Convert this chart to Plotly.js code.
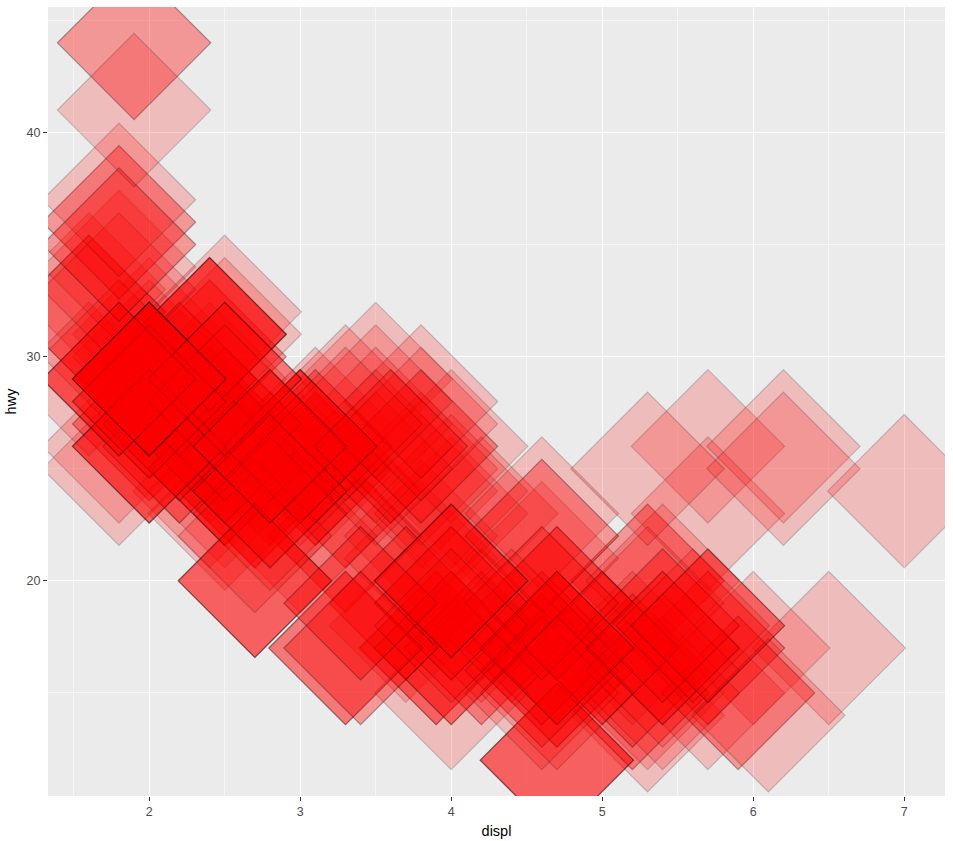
<!DOCTYPE html>
<html>
<head>
<meta charset="utf-8">
<script src="https://cdn.plot.ly/plotly-3.0.1.min.js"></script>
<style>html,body{margin:0;padding:0;background:#fff;}#chart{width:953px;height:841px;}</style>
</head>
<body>
<div id="chart"></div>
<script>
// mpg dataset: engine displacement (displ) and highway mileage (hwy)
var displ = [
  1.8,1.8,2.0,2.0,2.8,2.8,3.1,1.8,1.8,2.0,2.0,2.8,2.8,3.1,3.1,2.8,3.1,4.2,
  5.3,5.3,5.3,5.7,6.0,5.7,5.7,6.2,6.2,7.0,5.3,5.3,5.7,6.5,2.4,2.4,3.1,3.5,3.6,
  2.4,3.0,3.3,3.3,3.3,3.3,3.3,3.8,3.8,3.8,4.0,
  3.7,3.7,3.9,3.9,4.7,4.7,4.7,5.2,5.2,
  3.9,4.7,4.7,4.7,5.2,5.7,5.9,
  4.7,4.7,4.7,4.7,4.7,4.7,5.2,5.2,5.7,5.9,
  4.6,5.4,5.4,4.0,4.0,4.0,4.0,4.6,5.0,4.2,4.2,4.6,4.6,4.6,5.4,5.4,3.8,3.8,4.0,4.0,4.6,4.6,4.6,4.6,5.4,
  1.6,1.6,1.6,1.6,1.6,1.8,1.8,1.8,2.0,
  2.4,2.4,2.4,2.4,2.5,2.5,3.3,2.0,2.0,2.0,2.0,2.7,2.7,2.7,
  3.0,3.7,4.0,4.7,4.7,4.7,5.7,6.1,
  4.0,4.2,4.4,4.6,
  5.4,5.4,5.4,
  4.0,4.0,4.6,5.0,
  2.4,2.4,2.5,2.5,3.5,3.5,3.0,3.0,3.5,3.3,3.3,4.0,5.6,
  3.1,3.8,3.8,3.8,5.3,
  2.5,2.5,2.5,2.5,2.5,2.5,2.2,2.2,2.5,2.5,2.5,2.5,2.5,2.5,
  2.7,2.7,3.4,3.4,4.0,4.7,
  2.2,2.2,2.4,2.4,3.0,3.0,3.5,
  2.2,2.2,2.4,2.4,3.0,3.0,3.3,
  1.8,1.8,1.8,1.8,1.8,
  4.7,5.7,
  2.7,2.7,2.7,3.4,3.4,4.0,4.0,
  2.0,2.0,2.0,2.0,2.8,
  1.9,2.0,2.0,2.0,2.0,2.5,2.5,2.8,2.8,
  1.9,1.9,2.0,2.0,2.5,2.5,
  1.8,1.8,2.0,2.0,2.8,2.8,3.6
];
var hwy = [
  29,29,31,30,26,26,27,26,25,28,27,25,25,25,25,24,25,23,
  20,15,20,17,17,26,23,26,25,24,19,14,15,17,27,30,26,29,26,
  24,24,22,22,24,24,17,22,21,24,23,
  19,18,17,17,19,19,12,15,17,
  17,17,12,17,16,18,15,
  16,12,17,17,16,16,15,16,17,15,
  17,17,18,17,19,17,19,19,17,17,17,16,16,17,15,17,26,25,26,24,21,22,23,22,20,
  33,32,32,29,32,34,36,36,29,
  26,27,30,31,26,26,28,26,29,28,27,24,24,24,
  22,19,20,17,12,19,18,14,
  15,18,18,15,
  17,16,18,
  17,19,19,17,
  29,27,31,32,27,26,26,25,25,17,17,20,18,
  26,26,27,28,25,
  25,24,27,25,26,23,26,26,26,26,25,27,25,27,
  20,20,19,17,20,17,
  29,27,31,31,26,26,28,
  27,29,31,31,26,26,27,
  30,33,35,37,35,
  15,18,
  20,20,22,17,19,18,20,
  29,26,29,29,24,
  44,29,26,29,29,29,29,23,24,
  44,41,29,26,28,29,
  29,29,28,29,26,26,26
];
var xTicks = [2, 3, 4, 5, 6, 7];
var yTicks = [20, 30, 40];
var xTitle = 'displ';
var yTitle = 'hwy';

var trace = {
  type: 'scatter',
  mode: 'markers',
  x: displ,
  y: hwy,
  cliponaxis: true,
  hoverinfo: 'skip',
  marker: {
    symbol: 'diamond',
    size: 118,
    color: 'rgba(255,0,0,0.2)',
    line: {color: 'rgba(0,0,0,0.18)', width: 1.2}
  }
};

var axisCommon = {
  showline: false,
  zeroline: false,
  gridcolor: '#FFFFFF',
  gridwidth: 1.1,
  ticks: 'outside',
  ticklen: 4,
  tickwidth: 1.1,
  tickcolor: '#333333',
  tickfont: {family: 'Liberation Sans, Arial, sans-serif', size: 12.5, color: '#4D4D4D'},
  showgrid: true
};

var layout = {
  width: 953,
  height: 841,
  margin: {l: 48, r: 8, t: 7, b: 45},
  paper_bgcolor: '#FFFFFF',
  plot_bgcolor: '#EBEBEB',
  showlegend: false,
  font: {family: 'Liberation Sans, Arial, sans-serif'},
  xaxis: Object.assign({}, axisCommon, {
    range: [1.33, 7.27],
    tickmode: 'array',
    tickvals: xTicks,
    ticktext: xTicks.map(String),
    minor: {tick0: 1.5, dtick: 1, showgrid: true, gridcolor: '#FFFFFF', gridwidth: 0.55, ticks: ''},
    title: {text: xTitle, font: {size: 14.5, color: '#000000'}, standoff: 7}
  }),
  yaxis: Object.assign({}, axisCommon, {
    range: [10.4, 45.6],
    tickmode: 'array',
    tickvals: yTicks,
    ticktext: yTicks.map(String),
    minor: {tick0: 15, dtick: 10, showgrid: true, gridcolor: '#FFFFFF', gridwidth: 0.55, ticks: ''},
    title: {text: yTitle, font: {size: 14.5, color: '#000000'}, standoff: 6}
  })
};

Plotly.newPlot('chart', [trace], layout, {staticPlot: true, displayModeBar: false});
</script>
</body>
</html>
